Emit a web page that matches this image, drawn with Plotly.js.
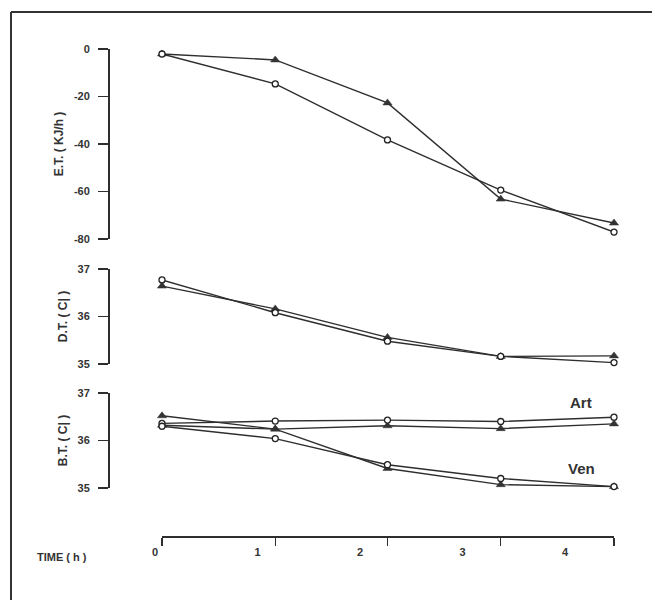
<!DOCTYPE html>
<html>
<head>
<meta charset="utf-8">
<script src="https://cdn.plot.ly/plotly-3.0.1.min.js"></script>
<style>html,body{margin:0;padding:0;background:#fff;}#chart{width:652px;height:600px;}</style>
</head>
<body>
<div id="chart"></div>
<script>
// Measurement times (h), as placed on the time axis
const times = [0.07, 1.17, 2.26, 3.36, 4.46];
const hourTicks = [0, 1, 2, 3, 4];
const hourLabels = ['0', '1', '2', '3', '4'];

// Panel 1: E.T. (KJ/h)
const etTriangle = [-2.1, -4.6, -22.7, -63.2, -73.3];
const etCircle = [-2.1, -14.7, -38.3, -59.4, -77.1];

// Panel 2: D.T.
const dtTriangle = [36.64, 36.16, 35.56, 35.16, 35.17];
const dtCircle = [36.77, 36.08, 35.48, 35.16, 35.03];

// Panel 3: B.T. Art / Ven
const artCircle = [36.36, 36.41, 36.43, 36.40, 36.49];
const artTriangle = [36.32, 36.24, 36.31, 36.25, 36.35];
const venCircle = [36.30, 36.04, 35.49, 35.20, 35.03];
const venTriangle = [36.52, 36.24, 35.41, 35.07, 35.03];

const etTicks = [0, -20, -40, -60, -80];
const tempTicks = [35, 36, 37];

const ink = '#2e2e2e';
const W = 652, H = 600;
const px = v => v / W;
const py = v => 1 - v / H;
const FAM = 'Liberation Sans, Arial, sans-serif';

function triTrace(y, ya) {
  return {x: times, y: y, xaxis: 'x', yaxis: ya, mode: 'lines+markers', cliponaxis: false,
    line: {color: ink, width: 1.4},
    marker: {symbol: 'triangle-up', size: 8, color: '#333', line: {color: '#333', width: 0.5}},
    hoverinfo: 'x+y'};
}
function circTrace(y, ya) {
  return {x: times, y: y, xaxis: 'x', yaxis: ya, mode: 'lines+markers', cliponaxis: false,
    line: {color: ink, width: 1.4},
    marker: {symbol: 'circle', size: 6, color: '#fff', line: {color: '#222', width: 1.3}},
    hoverinfo: 'x+y'};
}

const data = [
  triTrace(etTriangle, 'y'), circTrace(etCircle, 'y'),
  triTrace(dtTriangle, 'y2'), circTrace(dtCircle, 'y2'),
  triTrace(artTriangle, 'y3'), circTrace(artCircle, 'y3'),
  triTrace(venTriangle, 'y3'), circTrace(venCircle, 'y3'),
  // helper trace carrying the hour labels axis
  {x: hourTicks, y: hourTicks.map(() => null), xaxis: 'x2', yaxis: 'y3', mode: 'lines',
   showlegend: false, hoverinfo: 'skip', line: {width: 0}}
];

const tickFont = {family: FAM, size: 11, color: '#333', weight: 'bold'};
const titleFont = {family: FAM, size: 12, color: '#333', weight: 'bold'};

function yAxis(domain, range, tickvals, title) {
  return {
    domain: domain, range: range, anchor: 'free', position: px(108),
    showline: true, linecolor: ink, linewidth: 1.5, mirror: false,
    ticks: 'outside', ticklen: 10, tickwidth: 1.5, tickcolor: ink,
    tickvals: tickvals, ticktext: tickvals.map(String),
    ticklabelstandoff: 6,
    showgrid: false, zeroline: false, fixedrange: true,
    tickfont: tickFont, automargin: false,
    title: {text: title, font: titleFont, standoff: 6}
  };
}

const layout = {
  width: W, height: H, autosize: false,
  margin: {l: 0, r: 0, t: 0, b: 0, pad: 0},
  paper_bgcolor: '#fff', plot_bgcolor: 'rgba(0,0,0,0)',
  showlegend: false,
  xaxis: {
    domain: [px(162), px(614)], range: [times[0], times[times.length - 1]],
    anchor: 'free', position: py(536),
    showline: true, linecolor: ink, linewidth: 1.5,
    ticks: 'outside', ticklen: 8, tickwidth: 1.5, tickcolor: ink,
    tickvals: times, showticklabels: false,
    showgrid: false, zeroline: false, fixedrange: true, automargin: false
  },
  xaxis2: {
    domain: [px(150), px(614)], range: [(150 - 155) / 102.5, (614 - 155) / 102.5],
    anchor: 'free', position: py(536),
    showline: false, ticks: '', tickvals: hourTicks, ticktext: hourLabels,
    ticklabelstandoff: 8,
    showgrid: false, zeroline: false, fixedrange: true, automargin: false,
    tickfont: tickFont
  },
  yaxis: yAxis([py(239), py(49)], [-80, 0], etTicks, 'E.T. ( KJ/h )'),
  yaxis2: yAxis([py(364), py(269)], [35, 37], tempTicks, 'D.T. ( C| )'),
  yaxis3: yAxis([py(488), py(393)], [35, 37], tempTicks, 'B.T. ( C| )'),
  annotations: [
    {text: 'Art', x: 4.14, y: 36.79, xref: 'x', yref: 'y3', showarrow: false,
     xanchor: 'center', yanchor: 'middle',
     font: {family: FAM, size: 15, color: '#333', weight: 'bold'}},
    {text: 'Ven', x: 4.14, y: 35.42, xref: 'x', yref: 'y3', showarrow: false,
     xanchor: 'center', yanchor: 'middle',
     font: {family: FAM, size: 15, color: '#333', weight: 'bold'}},
    {text: 'TIME ( h )', x: px(62), y: py(557), xref: 'paper', yref: 'paper', showarrow: false,
     xanchor: 'center', yanchor: 'middle',
     font: {family: FAM, size: 11, color: '#333', weight: 'bold'}}
  ],
  shapes: [
    {type: 'line', xref: 'paper', yref: 'paper', x0: px(11), x1: px(11), y0: 0, y1: py(12),
     line: {color: '#333', width: 2}},
    {type: 'line', xref: 'paper', yref: 'paper', x0: px(11), x1: 1, y0: py(12), y1: py(12),
     line: {color: '#333', width: 2}}
  ]
};

Plotly.newPlot('chart', data, layout, {displayModeBar: false, staticPlot: true});
</script>
</body>
</html>
